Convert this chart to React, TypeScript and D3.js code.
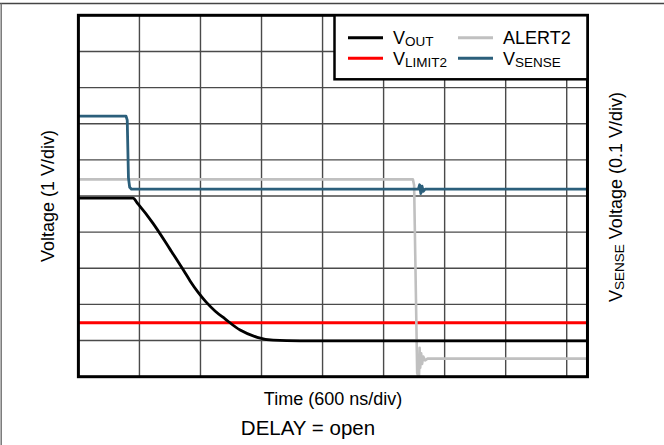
import React from "react";
import * as d3 from "d3";

// Time in divisions (600 ns/div), voltage in divisions
const X_DIVS = 8;
const Y_DIVS = 10;
const X_END = 8.34;

const voutT = [0, 0.894, 0.976, 1.22, 1.5, 1.75, 1.83, 1.959, 2.09, 2.238, 2.402, 2.65, 2.93, 3.19, 3.63, 8.34];
const voutV = [4.94, 4.94, 4.78, 4.25, 3.53, 2.87, 2.65, 2.34, 2.07, 1.82, 1.6, 1.29, 1.09, 1.01, 0.99, 0.99];

const vlimitT = [0, 8.34];
const vlimitV = [1.49, 1.49];

const alertT = [0, 5.48, 5.5, 5.55, 5.57, 5.58, 5.59, 5.6, 5.615, 5.63, 5.65, 5.68, 5.72, 8.34];
const alertV = [5.46, 5.46, 5.3, 0.1, 0.0, 0.0, 0.8, 0.25, 0.65, 0.35, 0.56, 0.45, 0.5, 0.5];

const vsenseT = [0, 0.78, 0.8, 0.82, 0.84, 0.87, 5.57, 5.59, 5.61, 5.63, 5.65, 5.68, 8.34];
const vsenseV = [7.21, 7.21, 7.1, 5.5, 5.24, 5.19, 5.19, 5.31, 5.07, 5.27, 5.13, 5.19, 5.19];

const legendRows = [
  [
    { main: "V", sub: "OUT", color: "#000000" },
    { main: "ALERT2", sub: "", color: "#c0c0c0" },
  ],
  [
    { main: "V", sub: "LIMIT2", color: "#ff0000" },
    { main: "V", sub: "SENSE", color: "#2b5f7b" },
  ],
];

const FONT = "'Liberation Sans', Arial, Helvetica, sans-serif";

export default function App() {
  const left = 78.4;
  const divW = 61.04;
  const top = 15.3;
  const bottom = 376.7;
  const x = d3.scaleLinear().domain([0, X_DIVS]).range([left, left + divW * X_DIVS]);
  const y = d3.scaleLinear().domain([0, Y_DIVS]).range([bottom, top]);
  const right = x(X_END);

  const toPts = (t: number[], v: number[]) => t.map((ti, i) => [ti, v[i]] as [number, number]);
  const lin = d3.line<[number, number]>().x((d) => x(d[0])).y((d) => y(d[1]));
  const smooth = d3
    .line<[number, number]>()
    .x((d) => x(d[0]))
    .y((d) => y(d[1]))
    .curve(d3.curveMonotoneX);

  const vGrid = d3.range(1, X_DIVS + 1);
  const hGrid = d3.range(1, Y_DIVS);

  const legX = 334.5;
  const legW = right - legX;
  const legH = 64;
  const colX = [348, 458];
  const rowY = [37.7, 58.3];

  return (
    <svg
      width={664}
      height={445}
      style={{ position: "absolute", left: 0, top: 0, display: "block", background: "#fff" }}
      fontFamily={FONT}
    >
      <rect x={0} y={0} width={664} height={445} fill="#fff" />
      <line x1={0} y1={3.5} x2={664} y2={3.5} stroke="#444" strokeWidth={1.5} />
      <line x1={1.2} y1={3.5} x2={1.2} y2={445} stroke="#777" strokeWidth={1.5} />

      <clipPath id="plotClip">
        <rect x={left} y={top} width={right - left} height={bottom - top} />
      </clipPath>

      {vGrid.map((d) => (
        <line key={"v" + d} x1={x(d)} x2={x(d)} y1={top} y2={bottom} stroke="#4a4a4a" strokeWidth={1.4} />
      ))}
      {hGrid.map((d) => (
        <line key={"h" + d} x1={left} x2={right} y1={y(d)} y2={y(d)} stroke="#4a4a4a" strokeWidth={1.4} />
      ))}

      <g clipPath="url(#plotClip)" fill="none" strokeLinejoin="round" strokeLinecap="round">
        <path d={lin(toPts(vlimitT, vlimitV)) || ""} stroke="#ff0000" strokeWidth={3} />
        <path d={lin(toPts(alertT, alertV)) || ""} stroke="#c0c0c0" strokeWidth={2.6} />
        <path d={smooth(toPts(voutT, voutV)) || ""} stroke="#000000" strokeWidth={2.8} />
        <path d={lin(toPts(vsenseT, vsenseV)) || ""} stroke="#2b5f7b" strokeWidth={2.8} />
      </g>

      <rect x={left} y={top} width={right - left} height={bottom - top} fill="none" stroke="#000" strokeWidth={3} />

      {/* Legend */}
      <rect x={legX} y={top} width={legW} height={legH} fill="#fff" stroke="#000" strokeWidth={2.5} />
      {legendRows.map((row, ri) =>
        row.map((item, ci) => (
          <g key={ri + "-" + ci}>
            <line
              x1={colX[ci]}
              x2={colX[ci] + 35}
              y1={rowY[ri]}
              y2={rowY[ri]}
              stroke={item.color}
              strokeWidth={3}
            />
            <text x={colX[ci] + 45} y={rowY[ri] + 6.2} fontSize={18} fill="#000">
              {item.main}
              {item.sub ? (
                <tspan fontSize={13.5} dy={2.3}>
                  {item.sub}
                </tspan>
              ) : null}
            </text>
          </g>
        ))
      )}

      {/* Axis titles */}
      <text x={333} y={405} fontSize={18} textAnchor="middle" fill="#000">
        Time (600 ns/div)
      </text>
      <text x={308} y={435} fontSize={20.5} textAnchor="middle" fill="#000">
        DELAY = open
      </text>
      <text transform="translate(54,196) rotate(-90)" fontSize={18} textAnchor="middle" fill="#000">
        Voltage (1 V/div)
      </text>
      <text transform="translate(622,197) rotate(-90)" fontSize={18} textAnchor="middle" fill="#000">
        V
        <tspan fontSize={13.5} dy={2.3}>
          SENSE
        </tspan>
        <tspan dy={-2.3}> Voltage (0.1 V/div)</tspan>
      </text>
    </svg>
  );
}
